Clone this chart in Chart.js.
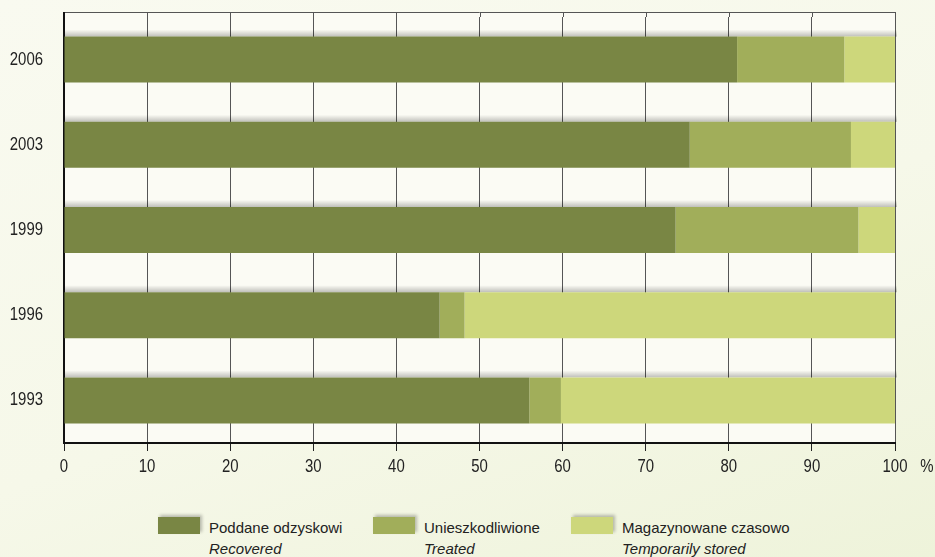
<!DOCTYPE html>
<html>
<head>
<meta charset="utf-8">
<script src="https://cdn.jsdelivr.net/npm/chart.js@4"></script>
<style>
  html, body { margin: 0; padding: 0; }
  body {
    width: 935px; height: 557px; overflow: hidden; position: relative;
    background: linear-gradient(160deg, #f9faf0 0%, #f6f8e9 55%, #eef3da 100%);
    font-family: "Liberation Sans", Arial, sans-serif;
  }
  #wrap { position: absolute; left: 0; top: 0; width: 935px; height: 500px; }
  .box { position: absolute; top: 517px; width: 42px; height: 17px; box-shadow: 2px -2px 3px rgba(0,0,0,0.25); }
  .lbl { position: absolute; top: 517px; font-size: 15px; line-height: 21px; color: #222; white-space: nowrap; }
  .lbl i { display: block; }
</style>
</head>
<body>
<div id="wrap"><canvas id="myChart" width="935" height="500"></canvas></div>

<div class="box" style="left:158px;background:#798644"></div>
<div class="lbl" style="left:209px">Poddane odzyskowi<i>Recovered</i></div>
<div class="box" style="left:373px;background:#a1ae5a"></div>
<div class="lbl" style="left:424px">Unieszkodliwione<i>Treated</i></div>
<div class="box" style="left:571px;background:#cdd77b"></div>
<div class="lbl" style="left:622px">Magazynowane czasowo<i>Temporarily stored</i></div>

<script>
// dane (%)
const years = ['2006', '2003', '1999', '1996', '1993']
const recovered = [81, 75.3, 73.6, 45.2, 56]
const treated = [12.9, 19.4, 22, 3, 3.8]
const stored = [6.1, 5.3, 4.4, 51.8, 40.2]

const FONT = '"Liberation Sans", Arial, sans-serif'
const NARROW = 0.83 // opisy osi sa w kroju waskim

// tlo obszaru wykresu, gorna ramka, cienie nad slupkami i waski krój opisow
const decor = {
  id: 'decor',
  beforeDraw(chart) {
    const { ctx, chartArea } = chart
    if (!ctx._narrow) {
      const orig = ctx.fillText
      ctx.fillText = function (t, x, y, mw) {
        const w = this.measureText(t).width * NARROW
        return orig.call(this, t, x, y, mw !== undefined ? Math.min(mw, w) : w)
      }
      ctx._narrow = true
    }
    ctx.save()
    ctx.fillStyle = '#fbfbf4'
    ctx.fillRect(chartArea.left, 12, chartArea.right - chartArea.left, chartArea.bottom - 12)
    ctx.restore()
  },
  beforeDatasetsDraw(chart) {
    const { ctx, chartArea } = chart
    const x = chart.scales.x
    ctx.save()
    // przedluzenie linii siatki do gornej ramki
    ctx.strokeStyle = '#555'
    ctx.lineWidth = 1
    x.ticks.forEach(t => {
      if (t.value === 0) return
      const px = Math.round(x.getPixelForValue(t.value)) + 0.5
      ctx.beginPath()
      ctx.moveTo(px, 12)
      ctx.lineTo(px, chartArea.top)
      ctx.stroke()
    })
    ctx.beginPath()
    ctx.moveTo(chartArea.left, 12.5)
    ctx.lineTo(chartArea.right, 12.5)
    ctx.stroke()
    ctx.strokeStyle = '#111'
    ctx.lineWidth = 2
    ctx.beginPath()
    ctx.moveTo(chartArea.left, 12)
    ctx.lineTo(chartArea.left, chartArea.top + 1)
    ctx.stroke()
    // cien nad kazdym slupkiem
    const meta = chart.getDatasetMeta(0)
    const last = chart.getDatasetMeta(chart.data.datasets.length - 1)
    meta.data.forEach((bar, i) => {
      const top = bar.y - bar.height / 2
      const right = last.data[i].x
      const g = ctx.createLinearGradient(0, top - 7, 0, top)
      g.addColorStop(0, 'rgba(0,0,0,0)')
      g.addColorStop(1, 'rgba(0,0,0,0.24)')
      ctx.fillStyle = g
      ctx.fillRect(chartArea.left + 1, top - 7, right - chartArea.left + 1, 7)
    })
    ctx.restore()
  },
  afterDraw(chart) {
    const { ctx } = chart
    ctx.save()
    ctx.fillStyle = '#222'
    ctx.font = '18px ' + FONT
    ctx.textAlign = 'center'
    ctx.textBaseline = 'middle'
    ctx.fillText('%', 927, 467)
    ctx.restore()
  }
}

new Chart(document.getElementById('myChart'), {
  type: 'bar',
  data: {
    labels: years,
    datasets: [
      { label: 'Poddane odzyskowi', data: recovered, backgroundColor: '#798644' },
      { label: 'Unieszkodliwione', data: treated, backgroundColor: '#a1ae5a' },
      { label: 'Magazynowane czasowo', data: stored, backgroundColor: '#cdd77b' }
    ]
  },
  options: {
    indexAxis: 'y',
    responsive: false,
    animation: false,
    layout: { padding: { top: 17, right: 40, left: 0, bottom: 0 } },
    plugins: { legend: { display: false }, tooltip: { enabled: false } },
    datasets: { bar: { categoryPercentage: 1, barPercentage: 0.54, borderWidth: 0 } },
    scales: {
      x: {
        stacked: true,
        min: 0,
        max: 100,
        afterFit(scale) { scale.height = 57; scale.paddingTop = 0; scale.paddingBottom = 0 },
        ticks: { stepSize: 10, color: '#222', font: { family: FONT, size: 18 }, padding: 5, maxRotation: 0 },
        grid: { color: '#555', lineWidth: 1, tickLength: 8, tickColor: '#222' },
        border: { color: '#111', width: 2 }
      },
      y: {
        stacked: true,
        afterFit(scale) { scale.width = 64; scale.paddingTop = 0; scale.paddingBottom = 0 },
        ticks: { color: '#222', font: { family: FONT, size: 18 }, padding: 21 },
        grid: { display: false, drawTicks: false },
        border: { color: '#111', width: 2 }
      }
    }
  },
  plugins: [decor]
})
</script>
</body>
</html>
